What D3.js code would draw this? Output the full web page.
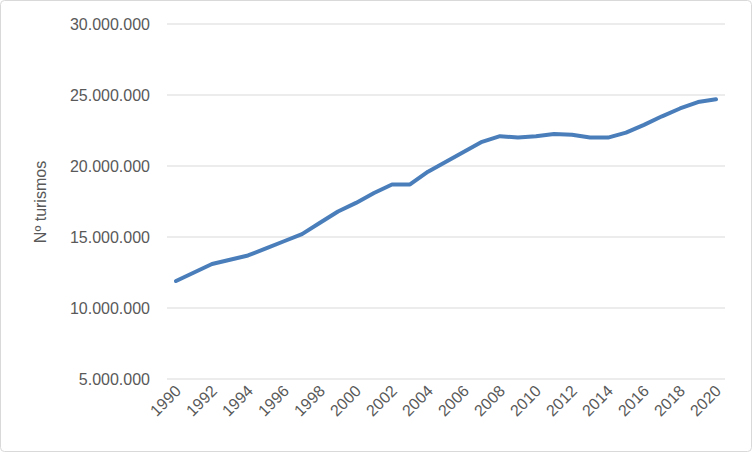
<!DOCTYPE html>
<html><head><meta charset="utf-8">
<script src="https://cdn.jsdelivr.net/npm/d3@7"></script>
<style>body{margin:0;background:#fff}svg{font-family:"Liberation Sans",Arial,sans-serif}</style>
</head><body>
<svg id="chart" width="752" height="452"></svg>
<script>
const years = d3.range(1990, 2021);
const turismos = [11.9,12.5,13.1,13.4,13.7,14.2,14.7,15.2,16.0,16.8,17.4,18.1,18.7,18.7,19.6,20.3,21.0,21.7,22.1,22.0,22.1,22.25,22.2,22.0,22.0,22.35,22.9,23.5,24.05,24.5,24.7].map(v => v * 1e6);
const yTicks = [5e6, 10e6, 15e6, 20e6, 25e6, 30e6];
const xTicks = years.filter(y => y % 2 === 0);

const svg = d3.select("#chart");
svg.append("rect").attr("x",0.5).attr("y",0.5).attr("width",751).attr("height",451)
  .attr("rx",4).attr("fill","#fff").attr("stroke","#d9d9d9");

const x = d3.scaleLinear().domain([1990, 2020]).range([176, 716]);
const y = d3.scaleLinear().domain([5e6, 30e6]).range([379, 24]);
const fmt = d => d3.format(",")(d).replace(/,/g, ".");

svg.append("g").selectAll("line").data(yTicks).join("line")
  .attr("x1",167).attr("x2",725).attr("y1",d=>y(d)).attr("y2",d=>y(d))
  .attr("stroke","#d9d9d9");

svg.append("g").selectAll("text").data(yTicks).join("text")
  .attr("x",150).attr("y",d=>y(d)).attr("dy","0.35em").attr("text-anchor","end")
  .attr("fill","#595959").attr("font-size",16).text(fmt);

svg.append("g").selectAll("text").data(xTicks).join("text")
  .attr("transform",d=>`translate(${x(d)+6},${392}) rotate(-45)`)
  .attr("text-anchor","end").attr("fill","#595959").attr("font-size",16).text(d=>d);

svg.append("text").attr("transform","translate(46,202) rotate(-90)")
  .attr("text-anchor","middle").attr("fill","#595959").attr("font-size",16).text("Nº turismos");

svg.append("path").datum(years)
  .attr("d", d3.line().x(d=>x(d)).y((d,i)=>y(turismos[i])))
  .attr("fill","none").attr("stroke","#4a7ebb").attr("stroke-width",4)
  .attr("stroke-linejoin","round").attr("stroke-linecap","round");
</script>
</body></html>
